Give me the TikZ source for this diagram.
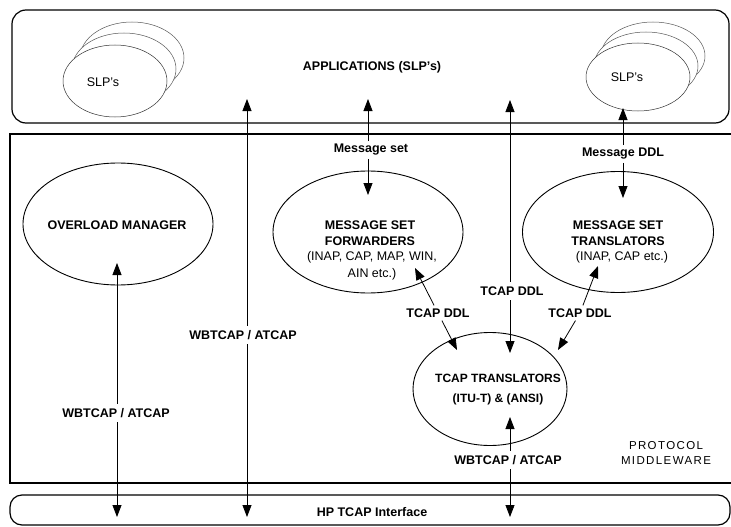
\documentclass[tikz,border=0pt]{standalone}
\usepackage{fontspec}
\setmainfont{Liberation Sans}
\newfontfamily\spacedfont[LetterSpace=12]{Liberation Sans}
\usetikzlibrary{arrows.meta,shapes.geometric}
\begin{document}
\begin{tikzpicture}[x=1pt,y=-1pt,
  box/.style={draw, line width=1.2pt, inner sep=0pt},
  oval/.style={draw, ellipse, line width=0.9pt, inner sep=0pt},
  slp/.style={draw=black!65, ellipse, fill=white, line width=0.5pt, minimum width=104pt, minimum height=72pt, inner sep=0pt},
  lbl/.style={font=\fontsize{12.5}{16.5}\selectfont\bfseries, inner sep=4.5pt, align=center},
  rtxt/.style={font=\fontsize{12.5}{16.5}\selectfont, inner sep=1pt, align=center},
  conn/.style={line width=0.8pt},
  tip/.style={-{Triangle[length=12pt,width=9pt]}},
]
\useasboundingbox (0,0) rectangle (731,527);

% frames
\node[box, rounded corners=14pt, minimum width=717pt, minimum height=113pt] (apps) at (370.5,66.5) {};
\node[lbl, inner sep=1pt] (appstxt) at (372,67) {APPLICATIONS (SLP's)};
\draw[line width=1.2pt] (731,134) -- (10,134) -- (10,483) -- (731,483);
\node[box, rounded corners=12pt, minimum width=720pt, minimum height=30pt] (hp) at (370,510) {};
\node[lbl, inner sep=1pt] (hptxt) at (372,512) {HP TCAP Interface};
\node[font=\fontsize{11.5}{15}\spacedfont, align=center, inner sep=0pt] (pm) at (666,453) {PROTOCOL\\MIDDLEWARE};

% SLP clusters
\node[slp] (slpL3) at (132,58) {};
\node[slp] (slpL2) at (124,69) {};
\node[slp, draw=black!80] (slpL1) at (115,81) {};
\node[rtxt] (slpLt) at (103,82) {SLP's};
\node[slp, minimum height=68pt] (slpR3) at (653,56) {};
\node[slp, minimum height=68pt] (slpR2) at (646,66) {};
\node[slp, draw=black!80, minimum height=68pt] (slpR1) at (638,77) {};
\node[rtxt] (slpRt) at (627,77) {SLP's};

% ellipses
\node[oval, minimum width=190pt, minimum height=122pt] (om) at (118,224) {};
\node[lbl, inner sep=1pt] (omt) at (117,225) {OVERLOAD MANAGER};
\node[oval, minimum width=190pt, minimum height=122pt] (msf) at (368,232) {};
\node[lbl, inner sep=1pt] (msft) at (370,233) {MESSAGE SET\\FORWARDERS};
\node[rtxt] (msft2) at (372,266) {(INAP, CAP, MAP, WIN,\\AIN etc.)};
\node[oval, minimum width=191pt, minimum height=121pt] (mst) at (618,232) {};
\node[lbl, inner sep=1pt] (mstt) at (618,233) {MESSAGE SET\\TRANSLATORS};
\node[rtxt] (mstt2) at (622,257) {(INAP, CAP etc.)};
\node[oval, minimum width=154pt, minimum height=113pt] (tt) at (490,389) {};
\node[lbl, inner sep=1pt, font=\fontsize{12}{20}\selectfont\bfseries] (ttt) at (498,390) {TCAP TRANSLATORS\\(ITU-T) \& (ANSI)};

% connector end points
\coordinate (a1t) at (117,263); \coordinate (a1b) at (117,517);
\coordinate (a2t) at (247,99);  \coordinate (a2b) at (247,517);
\coordinate (a3t) at (368,99);  \coordinate (a3b) at (368,195);
\coordinate (a4t) at (510,100); \coordinate (a4b) at (510,353);
\coordinate (a5t) at (623,108); \coordinate (a5b) at (623,198);
\coordinate (a6t) at (510,417); \coordinate (a6b) at (510,517);
\coordinate (d1t) at (415,268); \coordinate (d1b) at (457,350);
\coordinate (d2t) at (598,266); \coordinate (d2b) at (558,350);

% labels on connectors
\node[lbl] (l1) at (116,413) {WBTCAP / ATCAP};
\node[lbl] (l2) at (243,335) {WBTCAP / ATCAP};
\node[lbl, inner sep=3pt] (l3) at (371,150) {Message set};
\node[lbl] (l4) at (512,291) {TCAP DDL};
\node[lbl, inner sep=3pt] (l5) at (623,154) {Message DDL};
\node[lbl] (l6) at (508,460) {WBTCAP / ATCAP};
\node[lbl, inner sep=3pt] (l7) at (438,313) {TCAP DDL};
\node[lbl, inner sep=3pt] (l8) at (580,313) {TCAP DDL};

% connectors
\draw[conn,tip] (a1t |- l1.north) -- (a1t);
\draw[conn,tip] (a1b |- l1.south) -- (a1b);
\draw[conn,tip] (a2t |- l2.north) -- (a2t);
\draw[conn,tip] (a2b |- l2.south) -- (a2b);
\draw[conn,tip] (a3t |- l3.north) -- (a3t);
\draw[conn,tip] (a3b |- l3.south) -- (a3b);
\draw[conn,tip] (a4t |- l4.north) -- (a4t);
\draw[conn,tip] (a4b |- l4.south) -- (a4b);
\draw[conn,tip] (a5t |- l5.north) -- (a5t);
\draw[conn,tip] (a5b |- l5.south) -- (a5b);
\draw[conn,tip] (a6t |- l6.north) -- (a6t);
\draw[conn,tip] (a6b |- l6.south) -- (a6b);
\draw[conn,tip] (l7) -- (d1t);
\draw[conn,tip] (l7) -- (d1b);
\draw[conn,tip] (l8) -- (d2t);
\draw[conn,tip] (l8) -- (d2b);
\end{tikzpicture}
\end{document}
